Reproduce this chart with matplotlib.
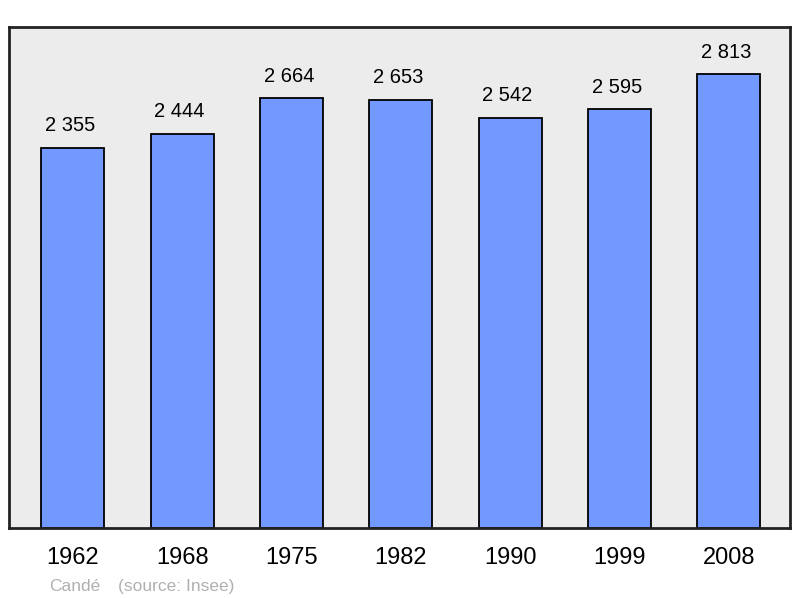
import matplotlib.pyplot as plt
import numpy as np

years = ['1962', '1968', '1975', '1982', '1990', '1999', '2008']
population = [2355, 2444, 2664, 2653, 2542, 2595, 2813]
value_labels = ['2 355', '2 444', '2 664', '2 653', '2 542', '2 595', '2 813']

plt.rcParams['font.family'] = ['Liberation Sans', 'DejaVu Sans']

fig = plt.figure(figsize=(8, 5.98), dpi=100)
ax = fig.add_axes([0.01125, 0.1171, 0.97625, 0.8378])
ax.set_facecolor('#ececec')

x = np.arange(len(years))
ax.bar(x, population, width=0.576, color='#7299ff', edgecolor='black', linewidth=1.3, zorder=2)
for xi, v, lab in zip(x, population, value_labels):
    ax.annotate(lab, (xi, v), xytext=(-2, 9), textcoords='offset points',
                ha='center', va='bottom', fontsize=14.5, color='black')

ax.set_xlim(-0.585, 6.56)
ax.set_ylim(0, 3105)
ax.set_xticks(x)
ax.set_xticklabels(years, fontsize=17)
ax.tick_params(axis='x', length=0, pad=13.5)
ax.set_yticks([])
for s in ax.spines.values():
    s.set_linewidth(2)
    s.set_color('#222222')

fig.text(0.061, 0.012, 'Candé', fontsize=12.5, color='#b0b0b0')
fig.text(0.148, 0.012, '(source: Insee)', fontsize=12.5, color='#b0b0b0')

fig.savefig('out.png', dpi=100, facecolor='white')
